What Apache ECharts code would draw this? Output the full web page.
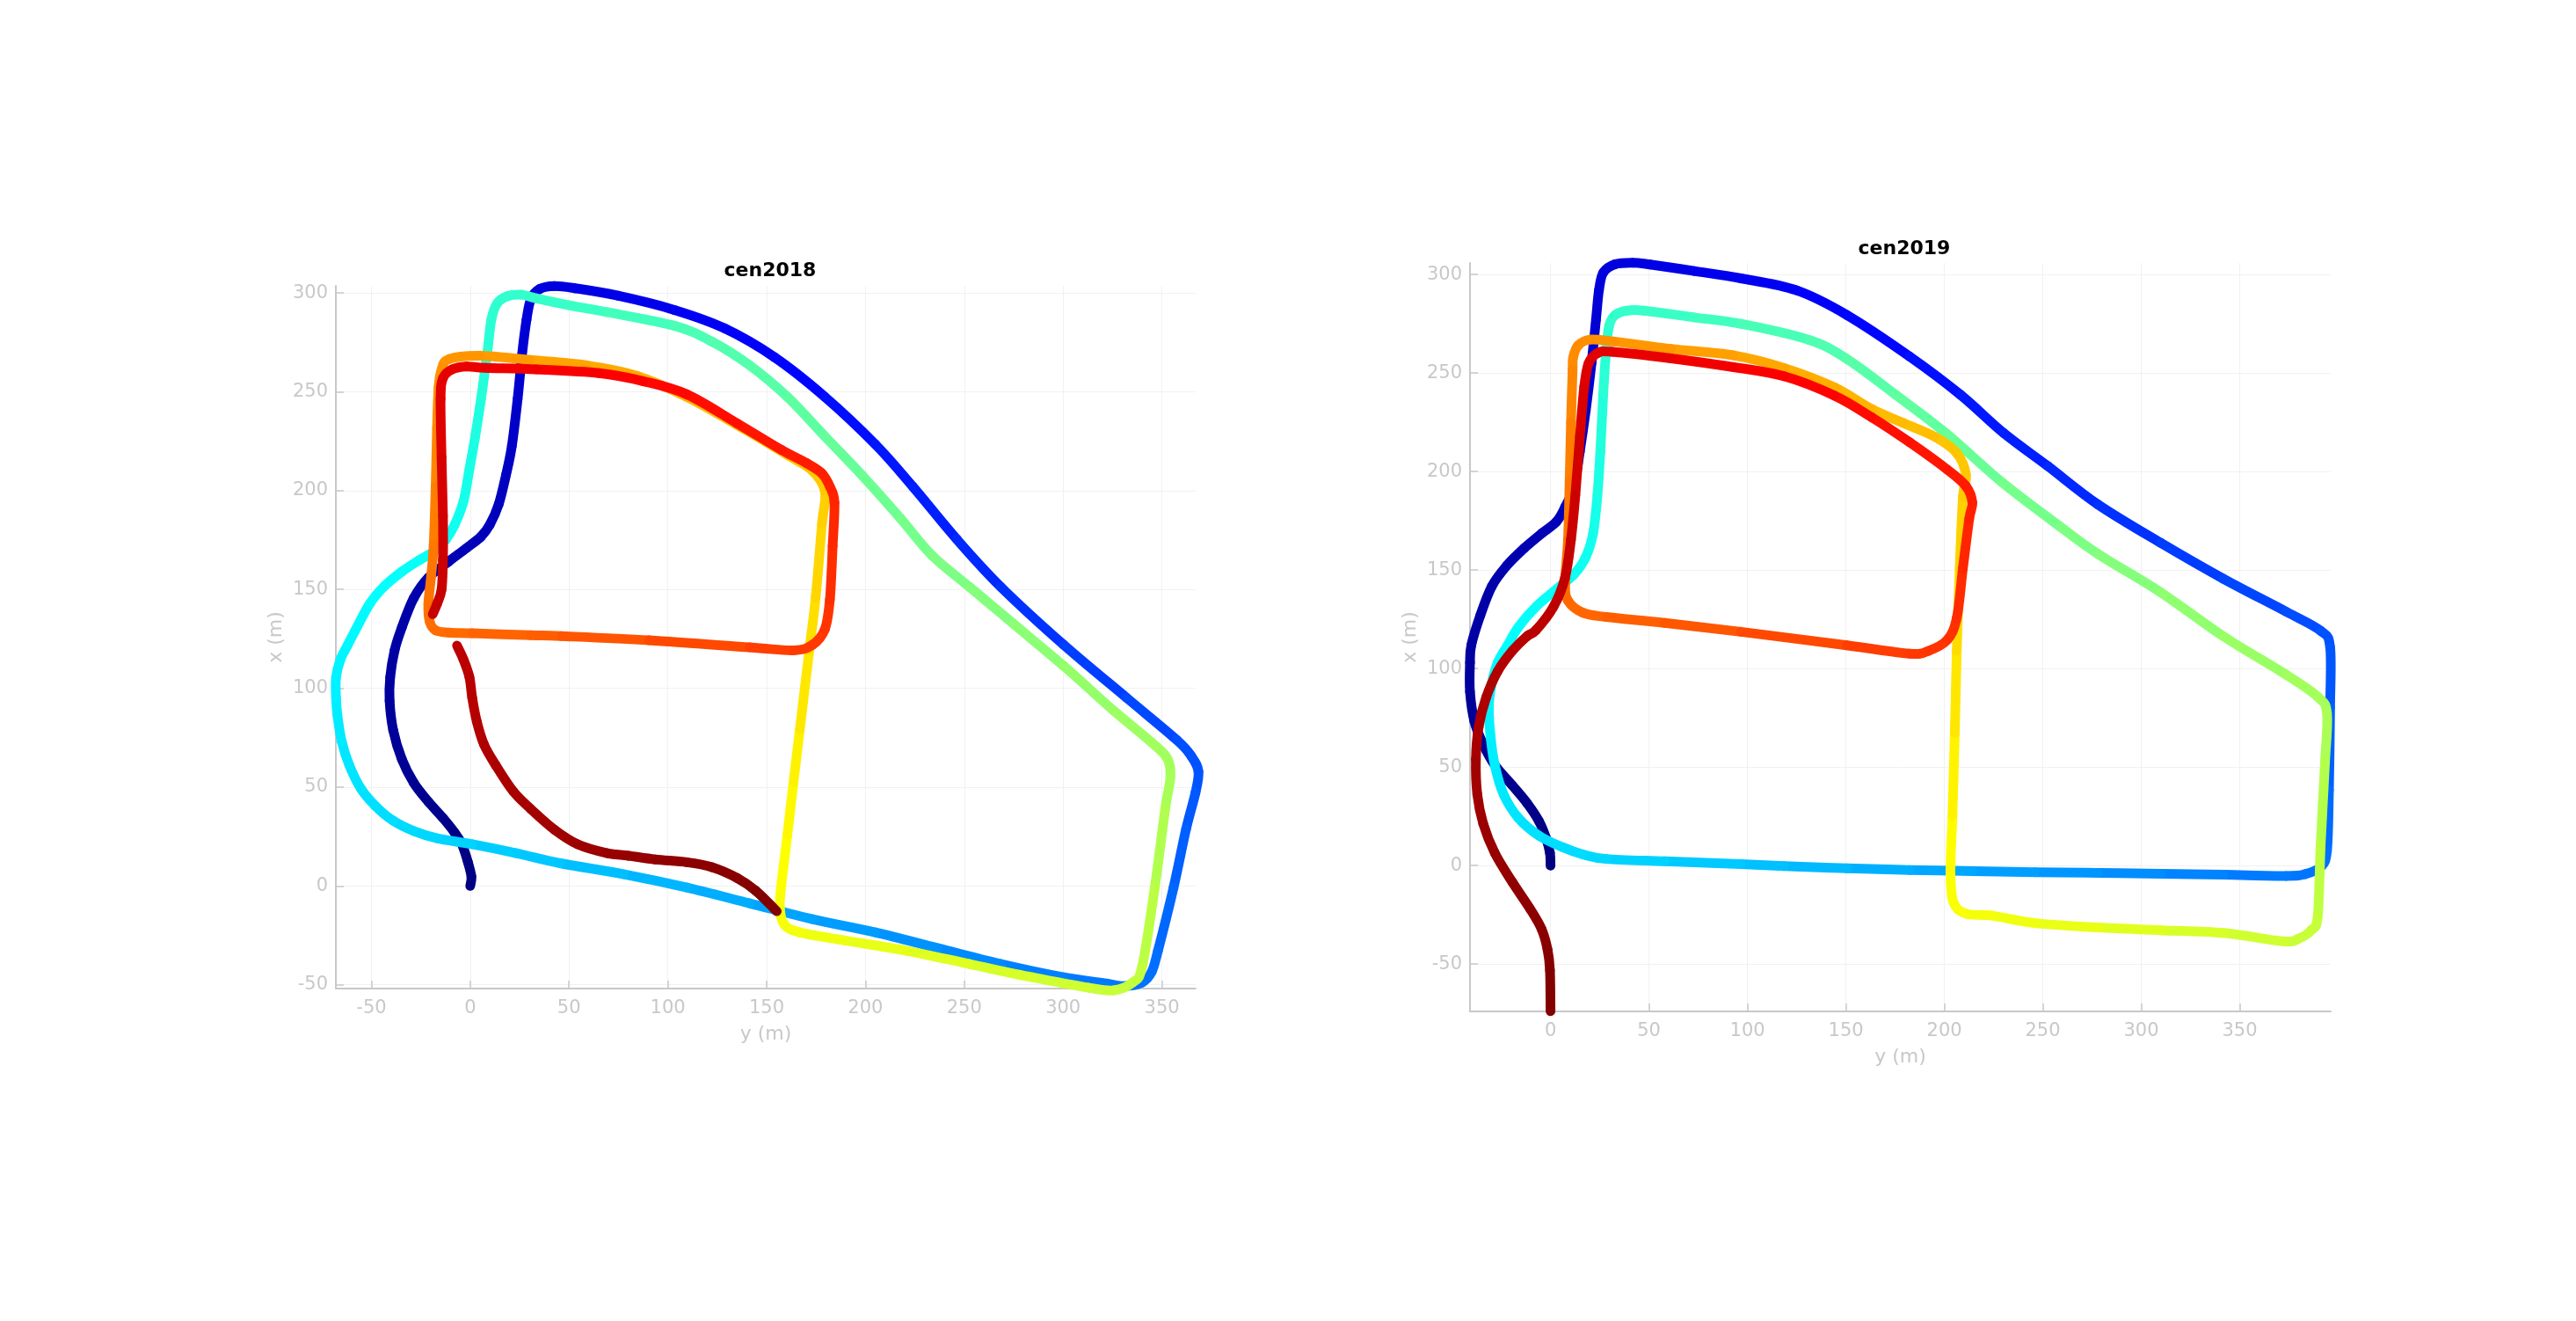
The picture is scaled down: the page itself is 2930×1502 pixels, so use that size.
<!DOCTYPE html>
<html><head><meta charset="utf-8">
<script src="https://cdn.jsdelivr.net/npm/echarts@6/dist/echarts.min.js"></script>
<style>html,body{margin:0;padding:0;background:#fff;}#c{width:2930px;height:1502px;}</style>
</head><body><div id="c"></div>
<script>
// ---------- data ----------
const titles = ['cen2018', 'cen2019'];
const xTicks2018 = [-50, 0, 50, 100, 150, 200, 250, 300, 350];
const yTicks2018 = [-50, 0, 50, 100, 150, 200, 250, 300];
const xTicks2019 = [0, 50, 100, 150, 200, 250, 300, 350];
const yTicks2019 = [-50, 0, 50, 100, 150, 200, 250, 300];

// trajectory points: [y (m), x (m)] in time order
const path2018a = [
 [0,0],[0.6,4.7],[-1.2,12.2],[-4.2,21.1],[-7.9,27.0],[-13.8,34.4],[-21.2,42.6],[-28.6,52.2],[-34.6,64.1],[-39.0,78.9],
 [-40.8,93.7],[-40.5,105.6],[-38.3,119.1],[-34.6,130.8],[-28.6,145.6],[-21.2,156],[-10.8,164.2],[-1.9,170.9],[5.5,176.8],
 [9.9,182.7],[14.4,193.1],[18.1,207.9],[21.1,222.8],[24,246.5],[26.2,268.7],[28.5,286.5],[30.7,296.9],[35.1,302],[42.6,303.5],[52.9,302.4],
 [74.7,298.6],[103.3,291.4],[128.7,282.1],[154.1,267.4],[179.5,247.4],[205,223.4],[224,202],[246.3,175.3],[268.5,151.3],
 [300.3,122],[332,95.3],[357.5,73.9],[365,65.5],[368.5,57.9],[367,47.2],[362.2,28.6],[355.9,-0.8],[348,-32.8],[344.8,-43.5],
 [340,-48.8],[330.5,-50.7],
 [322.5,-49.4],[300.3,-46.2],[268.5,-39.5],[236.7,-31.5],[205,-23.5],[173.2,-16.8],[141.4,-8.8],[109.6,-0.8],[77.9,5.9],
 [45.5,11.5],[23.3,16.6],[1,21.1],[-16.8,24.1],[-28.6,27.8],[-39,33],[-47.9,40.4],[-55.3,49.2],[-61.2,61.1],[-65,73],
 [-67.2,86.3],[-67.9,95.2],[-67.9,105.6],[-65.7,114.5],[-62,121.9],[-58.3,129],[-50.9,142.7],[-43.5,151.6],[-34.6,159],
 [-25.7,164.9],[-18.2,169.4],[-12.3,175.3],[-7.9,182.7],[-3.4,194.6],[-0.4,210.9],[2.5,227.2],[5.5,246.5],[8.5,268.7],
 [10.7,286.5],[13.6,294.7],[18.8,298.4],[26.2,299.1],[33.7,297.2],
 [50,293.8],[69.3,290.3],[103.3,283.4],[122.3,275.4],[141.4,263.4],[160.5,247.4],[179.5,227.4],[198.6,207.4],[217.7,186],
 [233.6,167.3],[252.6,151.3],[274.9,132.6],[300.3,111.3],[325.7,88.6],[344.8,72.6],[352.7,64.6],[354.3,55.2],[351.7,39.2],
 [346.4,-0.8],[340,-40.8],[335.2,-48.8],[325.7,-52.8],[313,-51.5],
 [284.4,-46.2],[252.6,-39.5],[220.8,-32.8],[189.1,-27.5],[166.8,-23.5],[158.9,-19.5],[156.7,-11.5],[157.3,-0.8],[160.5,25.9],
 [163.6,52.6],[166.8,79.3],[171.6,119.3],[174.8,146],[178,183.3],[179.5,199.4],
 [173.2,210],[160.5,218],[138.2,231.4],[109.6,247.4],[84.2,258.1],[58.8,263.4],[30.2,266.1],[4.8,268.2],[-10.8,266.5],
 [-14.5,261.3],[-16,252.4],[-16.8,231.7],[-17.5,202],[-18.5,172.3],[-19.7,157.5],[-21.2,142.7],[-20.5,133.7],[-17.5,129.3],
 [-10.8,128.2],[1,127.8],[30.7,126.9],[46.1,126.4],[90.6,124.3],[141.4,120.7],[163.6,119.2],[173.2,122],[179.5,130],[182,145],
 [183.4,172],[184.3,194],[182,202],[178,208.7],[170,214],
 [157.3,220.7],[135.1,234],[109.6,248.7],[87.3,255.4],[65.1,259.4],[33.4,261.3],[7.9,262.1],[-1.9,262.8],[-9.3,261.3],
 [-13.8,256.9],[-15,246.5],[-14.5,216.8],[-13.8,187.2],[-13.8,164.9],[-14.5,150],[-16.8,142.7],[-19,137.5]
];
const path2018b = [
 [-6.7,121.6],[-3.4,114.5],[-0.4,105.6],[1,95.2],[3.3,83.3],[7,71.5],[12.9,61.1],[21.8,47.8],[30.7,38.9],[42.6,28.5],
 [54.4,21.1],[69.3,16.6],[80,15.3],[93.7,13.4],[109.6,12],[122.3,9.5],[135.1,4],[144.6,-2.5],[155.1,-12.8]
];
const path2019 = [
 [0,0],[-0.3,6.4],[-2.2,13.8],[-6,22.8],[-11.9,31.7],[-19.3,40.6],[-28.3,51],[-34.2,61.5],[-38.7,73.4],[-40.9,88.2],
 [-40.9,103.1],[-40.2,112],[-35.7,126.9],[-29.8,141.8],[-22.3,152.2],[-13.4,161.1],[-4.5,168.6],[3,174.6],[7.4,182],
 [11.9,192.4],[14.9,210.3],[17.9,231.1],[20.8,254.9],[23.1,277.2],[24.6,292.1],[26.8,301],[32.7,305.2],[41.7,306],
 [50.6,305.1],[72.9,301.8],[96.7,298.1],[125,292],[150.5,279.5],[182.3,258.5],[208.2,239],[230.2,219.5],[252.5,202.8],
 [278,183.3],[309.9,163.8],[341.7,145.6],[373.6,128.9],[391.1,119.2],[395.9,110.8],[395.9,80.1],[395.3,38.3],[394.3,7.6],
 [391.1,-0.7],[383.2,-4.3],[373.6,-5.2],
 [341.7,-4.6],[309.9,-4.1],[278,-3.7],[246.1,-3.3],[214.2,-2.8],[182.3,-2.2],[150.5,-1.4],[118.6,-0.2],[96.7,0.8],[58,2.2],
 [28.3,3.4],[16.4,5.7],[6,9.4],[-6,15.3],[-16.4,24.3],[-23.8,36.1],[-28.3,51],[-30.5,65.9],[-31.3,80.8],[-29.8,92.7],
 [-26.8,103.1],[-22.3,111],[-16.4,121],[-7.4,131.4],[3,140.3],[11.9,147.8],[17.9,156.6],[21.6,168.6],[23.8,187.9],
 [25.3,210.3],[26.8,240],[28.3,262.3],[29.8,274.2],[32.7,279.4],[38.7,281.7],[47.6,281.7],[72.9,278.3],[96.7,275],
 [131.3,266.8],[150.5,257.2],[175.3,239],[200.8,219.5],[229.5,194.4],[258.8,172.1],[278,158.2],[309.9,138.7],
 [341.7,116.4],[373.6,96.9],[389.6,85.7],[394.3,77.3],[393.3,52.2],[391.1,10.4],[389.6,-25.8],[386.3,-32.8],[380,-37],[372,-38.4],
 [341.7,-34.2],[309.9,-32.8],[278,-31.4],[246.1,-29.2],[223.8,-25.3],[211.1,-24.4],[204.7,-18.8],[203.1,-3.5],[204.1,25.4],
 [205.3,67.2],[206.3,109],[207.8,150.8],[209.4,187.1],[211,198.2],
 [206.3,209.4],[195.1,217.7],[179.1,224.7],[163.2,231.7],[144.1,242.8],[118.6,252.6],[93.1,259],[61.2,262.3],[32.5,266],
 [20,267],[14,264],[11.5,258],[11.2,251.9],[10.4,225.1],[9.7,195.4],[8.9,165.6],[7.4,143.3],[8.9,134.4],[16.4,128.4],
 [28.3,126.2],[58,123.2],[96.7,118.7],[150.5,111.8],[182.3,107.6],[191.9,109],[201.5,114.6],[206.3,125.7],[209.4,150.8],
 [212.6,175.9],[214.2,184.3],
 [211,192.6],[201.5,201],[182.3,214.9],[163.2,227.5],[144.1,238.6],[118.6,248.4],[93.1,253],[61.2,257.5],[31.3,260.8],
 [23.8,260.1],[19.3,254.9],[17.1,243],[14.9,217.7],[12.6,188],[10.4,165.6],[7.4,146.3],[1.5,131.4],[-7.4,119.5],
 [-11.9,116.5],[-19.3,109.1],[-26.8,98.7],[-32.7,85.3],[-36.5,70.4],[-37.9,54],[-37.2,36.2],[-34.2,21.3],[-28.3,6.4],
 [-19.3,-8.5],[-10.4,-21.9],[-4.5,-32.3],[-1.5,-42.7],[-0.3,-53.1],[0,-73.9]
];

// ---------- build segment tables (colour = progress along the drive) ----------
// row: [y1, x1, y2, x2, progress, yPrev, xPrev, yNext, xNext]
function buildSegments(parts) {
  let total = 0; const cums = [];
  let last = null;
  parts.forEach(p => {
    const c = [];
    p.forEach(pt => {
      if (last) total += Math.hypot(pt[0]-last[0], pt[1]-last[1]);
      c.push(total); last = pt;
    });
    cums.push(c);
  });
  const segs = [];
  parts.forEach((p, pi) => {
    const c = cums[pi];
    for (let i = 0; i < p.length - 1; i++) {
      const a = p[i], b = p[i+1];
      const pr = p[Math.max(0, i-1)], nx = p[Math.min(p.length-1, i+2)];
      segs.push([a[0], a[1], b[0], b[1], (c[i] + c[i+1]) / 2 / total, pr[0], pr[1], nx[0], nx[1]]);
    }
  });
  return segs;
}
const segs2018 = buildSegments([path2018a, path2018b]);
const segs2019 = buildSegments([path2019]);

const jet = ['#000080','#0000ff','#0080ff','#00ffff','#80ff80','#ffff00','#ff8000','#ff0000','#800000'];
const GRAY = '#c8c8c8';
const FONT = 'DejaVu Sans';

// smooth (Catmull-Rom) drawing of each piece of the track, coloured by its progress
function renderSeg(params, api) {
  const p1 = api.coord([api.value(0), api.value(1)]);
  const p2 = api.coord([api.value(2), api.value(3)]);
  const p0 = api.coord([api.value(5), api.value(6)]);
  const p3 = api.coord([api.value(7), api.value(8)]);
  return { type: 'bezierCurve',
    shape: {x1: p1[0], y1: p1[1], x2: p2[0], y2: p2[1],
            cpx1: p1[0] + (p2[0]-p0[0]) / 6, cpy1: p1[1] + (p2[1]-p0[1]) / 6,
            cpx2: p2[0] - (p3[0]-p1[0]) / 6, cpy2: p2[1] - (p3[1]-p1[1]) / 6},
    style: {stroke: api.visual('color'), fill: null, lineWidth: 11, lineCap: 'round'} };
}
function xAxisCfg(gi, min, max, ticks) {
  return { type: 'value', gridIndex: gi, min, max, name: 'y (m)', nameLocation: 'middle', nameGap: 41,
    nameTextStyle: {color: GRAY, fontSize: 22, fontFamily: FONT},
    axisLine: {show: true, onZero: false, lineStyle: {color: GRAY, width: 2}},
    axisTick: {show: true, inside: true, length: 9, customValues: ticks, lineStyle: {color: GRAY, width: 1.5}},
    axisLabel: {customValues: ticks, color: GRAY, fontSize: 21, fontFamily: FONT, margin: 12},
    splitLine: {show: true, lineStyle: {color: '#f1f1f1', width: 1}} };
}
function yAxisCfg(gi, min, max, ticks) {
  return { type: 'value', gridIndex: gi, min, max, name: 'x (m)', nameLocation: 'middle', nameGap: 57, nameRotate: 90,
    nameTextStyle: {color: GRAY, fontSize: 22, fontFamily: FONT},
    axisLine: {show: true, onZero: false, lineStyle: {color: GRAY, width: 2}},
    axisTick: {show: true, inside: true, length: 9, customValues: ticks, lineStyle: {color: GRAY, width: 1.5}},
    axisLabel: {customValues: ticks, color: GRAY, fontSize: 21, fontFamily: FONT, margin: 9},
    splitLine: {show: true, lineStyle: {color: '#f1f1f1', width: 1}} };
}

const chart = echarts.init(document.getElementById('c'), null, {renderer: 'canvas'});
chart.setOption({
  animation: false,
  backgroundColor: '#fff',
  title: [
    {text: titles[0], left: 871, top: 292, textAlign: 'center', textStyle: {fontSize: 22, fontWeight: 'bold', color: '#000', fontFamily: FONT}},
    {text: titles[1], left: 2161, top: 267, textAlign: 'center', textStyle: {fontSize: 22, fontWeight: 'bold', color: '#000', fontFamily: FONT}}
  ],
  grid: [
    {left: 382, top: 325, width: 978, height: 799},
    {left: 1672, top: 299, width: 979, height: 851}
  ],
  xAxis: [xAxisCfg(0, -68.0, 367.1, xTicks2018), xAxisCfg(1, -40.9, 396.2, xTicks2019)],
  yAxis: [yAxisCfg(0, -51.9, 303.6, yTicks2018), yAxisCfg(1, -74.0, 305.9, yTicks2019)],
  visualMap: [
    {type: 'continuous', show: false, seriesIndex: 0, dimension: 4, min: 0, max: 1, inRange: {color: jet}},
    {type: 'continuous', show: false, seriesIndex: 1, dimension: 4, min: 0, max: 1, inRange: {color: jet}}
  ],
  series: [
    {type: 'custom', name: titles[0], xAxisIndex: 0, yAxisIndex: 0, data: segs2018, renderItem: renderSeg,
     encode: {x: [0, 2], y: [1, 3]}, clip: false, silent: true},
    {type: 'custom', name: titles[1], xAxisIndex: 1, yAxisIndex: 1, data: segs2019, renderItem: renderSeg,
     encode: {x: [0, 2], y: [1, 3]}, clip: false, silent: true}
  ]
});
</script></body></html>
